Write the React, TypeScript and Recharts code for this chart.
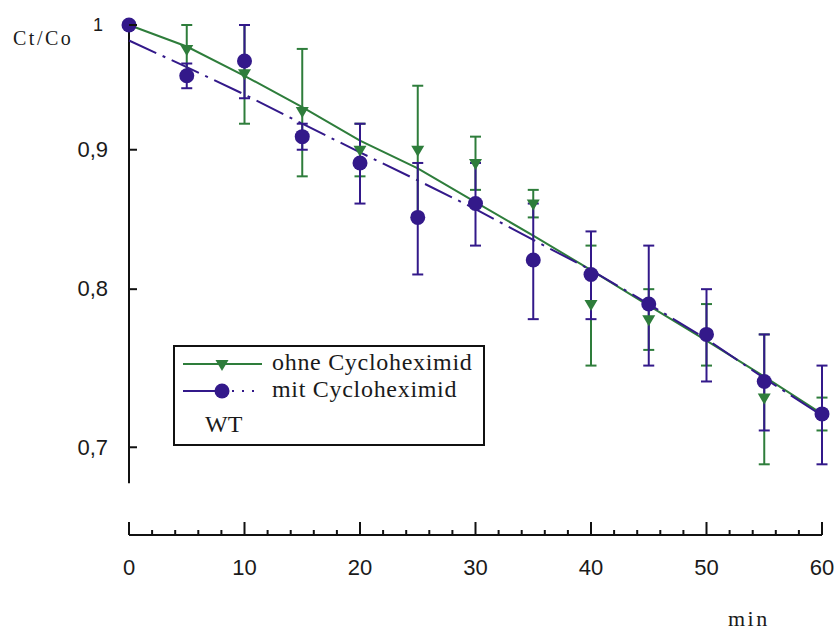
import { ComposedChart, Line, XAxis, YAxis, ErrorBar, ReferenceLine, Legend, Label } from 'recharts'

// Messzeitpunkte (min)
const times = [0, 5, 10, 15, 20, 25, 30, 35, 40, 45, 50, 55, 60]

// ohne Cycloheximid: Mittelwerte, Fehler, Ausgleichsgerade
const ohne = [1.0, 0.98, 0.96, 0.93, 0.9, 0.9, 0.89, 0.86, 0.79, 0.78, 0.77, 0.73, 0.72]
const ohneErr = [0, 0.02, 0.04, 0.05, 0.02, 0.05, 0.02, 0.01, 0.04, 0.02, 0.02, 0.04, 0.01]
const ohneFit = [1.0, 0.982, 0.958, 0.933, 0.907, 0.886, 0.861, 0.837, 0.813, 0.789, 0.766, 0.743, 0.72]

// mit Cycloheximid
const mit = [1.0, 0.958, 0.97, 0.91, 0.89, 0.85, 0.86, 0.82, 0.81, 0.79, 0.77, 0.74, 0.72]
const mitErr = [0, 0.01, 0.03, 0.01, 0.03, 0.04, 0.03, 0.04, 0.03, 0.04, 0.03, 0.03, 0.03]
const mitFit = [0.987, 0.965, 0.943, 0.92, 0.898, 0.877, 0.856, 0.834, 0.813, 0.79, 0.767, 0.742, 0.719]

const seriesNames = ['ohne Cycloheximid', 'mit Cycloheximid']
const legendNote = 'WT'

// Achsen
const xTicks = [0, 2, 4, 6, 8, 10, 12, 14, 16, 18, 20, 22, 24, 26, 28, 30, 32, 34, 36, 38, 40, 42, 44, 46, 48, 50, 52, 54, 56, 58, 60]
const xLabels = [0, 10, 20, 30, 40, 50, 60]
const yTicks = [0.7, 0.8, 0.9, 1]
const yDomain = [0.65, 1]
const yAxisSpan = [0.679, 1]

const GREEN = '#2e7d3b'
const PURPLE = '#33198a'
const INK = '#111111'
const SANS = '"Liberation Sans", Arial, sans-serif'
const SERIF = '"Liberation Serif", "Times New Roman", serif'

const rows = times.map((t, i) => ({
  t,
  ohne: ohne[i],
  ohneErr: ohneErr[i],
  ohneFit: ohneFit[i],
  mit: mit[i],
  mitErr: mitErr[i],
  mitFit: mitFit[i],
}))

function XTick({ x, y, payload }: any) {
  const major = xLabels.includes(payload.value)
  return (
    <g>
      <line x1={x} x2={x} y1={y} y2={y - (major ? 13 : 5)} stroke={INK} strokeWidth={2} />
      {major && (
        <text x={x} y={y + 40} textAnchor="middle" fontSize={22} fontFamily={SANS} fill="#1a1a1a">
          {payload.value}
        </text>
      )}
    </g>
  )
}

function YTick({ x, y, payload }: any) {
  const top = payload.value === 1
  return (
    <g>
      <line x1={x} x2={x + 8} y1={y} y2={y} stroke={INK} strokeWidth={2} />
      <text
        x={x - (top ? 26 : 21)}
        y={y}
        dy="0.33em"
        textAnchor="end"
        fontSize={top ? 18 : 22}
        fontFamily={SANS}
        fill="#1a1a1a"
      >
        {String(payload.value).replace('.', ',')}
      </text>
    </g>
  )
}

const triangleDot = (props: any) => {
  const { cx, cy, index } = props
  return (
    <path
      key={`tri-${index}`}
      d={`M${cx - 6.5},${cy - 4}L${cx + 6.5},${cy - 4}L${cx},${cy + 7}Z`}
      fill={GREEN}
    />
  )
}

const circleDot = (props: any) => {
  const { cx, cy, index } = props
  return <circle key={`dot-${index}`} cx={cx} cy={cy} r={7.5} fill={PURPLE} />
}

function LegendBox() {
  return (
    <div style={{ width: 312, height: 101, border: `2px solid ${INK}`, boxSizing: 'border-box', background: '#fff' }}>
      <svg width={308} height={97} style={{ display: 'block' }}>
        {/* ohne Cycloheximid */}
        <line x1={8} x2={87} y1={17} y2={17} stroke={GREEN} strokeWidth={2} />
        <path d="M40.5,13L53.5,13L47,24Z" fill={GREEN} />
        <text x={97} y={23} fontSize={24} letterSpacing={0.7} fontFamily={SERIF} fill="#1a1a1a">
          {seriesNames[0]}
        </text>
        {/* mit Cycloheximid */}
        <line x1={8} x2={47} y1={44} y2={44} stroke={PURPLE} strokeWidth={2} />
        <line x1={47} x2={87} y1={44} y2={44} stroke={PURPLE} strokeWidth={2} strokeDasharray="2 8" />
        <circle cx={47} cy={44} r={7.5} fill={PURPLE} />
        <text x={97} y={50} fontSize={24} letterSpacing={0.7} fontFamily={SERIF} fill="#1a1a1a">
          {seriesNames[1]}
        </text>
        <text x={30} y={85} fontSize={24} fontFamily={SERIF} fill="#1a1a1a">
          {legendNote}
        </text>
      </svg>
    </div>
  )
}

export default function App() {
  return (
    <div style={{ width: 837, height: 633, background: '#fff' }}>
      <style>{'body{margin:0}'}</style>
      <ComposedChart width={837} height={633} data={rows} margin={{ top: 25, right: 15, bottom: 0, left: 0 }}>
        <XAxis
          dataKey="t"
          type="number"
          domain={[0, 60]}
          ticks={xTicks}
          interval={0}
          height={98}
          tickSize={0}
          tickMargin={0}
          tickLine={false}
          axisLine={{ stroke: INK, strokeWidth: 2 }}
          tick={<XTick />}
        >
          <Label
            content={() => (
              <text x={728} y={626} fontSize={22} letterSpacing={2.5} fontFamily={SERIF} fill="#1a1a1a">
                min
              </text>
            )}
          />
        </XAxis>
        <YAxis
          type="number"
          scale="log"
          domain={yDomain}
          ticks={yTicks}
          interval={0}
          width={129}
          tickSize={0}
          tickMargin={0}
          tickLine={false}
          axisLine={false}
          tick={<YTick />}
        >
          <Label
            content={() => (
              <text x={13} y={45} fontSize={20} letterSpacing={2.5} fontFamily={SERIF} fill="#1a1a1a">
                Ct/Co
              </text>
            )}
          />
        </YAxis>
        <ReferenceLine
          segment={[{ x: 0, y: yAxisSpan[0] }, { x: 0, y: yAxisSpan[1] }]}
          stroke={INK}
          strokeWidth={2}
          ifOverflow="visible"
        />
        <Line
          dataKey="ohneFit"
          type="linear"
          stroke={GREEN}
          strokeWidth={2}
          dot={false}
          activeDot={false}
          legendType="none"
          isAnimationActive={false}
        />
        <Line
          dataKey="mitFit"
          type="linear"
          stroke={PURPLE}
          strokeWidth={2}
          strokeDasharray="30 7 3 7"
          dot={false}
          activeDot={false}
          legendType="none"
          isAnimationActive={false}
        />
        <Line
          dataKey="ohne"
          name={seriesNames[0]}
          stroke={GREEN}
          strokeWidth={0}
          dot={triangleDot}
          activeDot={false}
          isAnimationActive={false}
        >
          <ErrorBar dataKey="ohneErr" direction="y" width={5.5} stroke={GREEN} strokeWidth={2} />
        </Line>
        <Line
          dataKey="mit"
          name={seriesNames[1]}
          stroke={PURPLE}
          strokeWidth={0}
          dot={circleDot}
          activeDot={false}
          isAnimationActive={false}
        >
          <ErrorBar dataKey="mitErr" direction="y" width={5.5} stroke={PURPLE} strokeWidth={2} />
        </Line>
        <Legend
          layout="vertical"
          align="center"
          verticalAlign="middle"
          wrapperStyle={{ left: 173, top: 345, width: 312 }}
          content={<LegendBox />}
        />
      </ComposedChart>
    </div>
  )
}
